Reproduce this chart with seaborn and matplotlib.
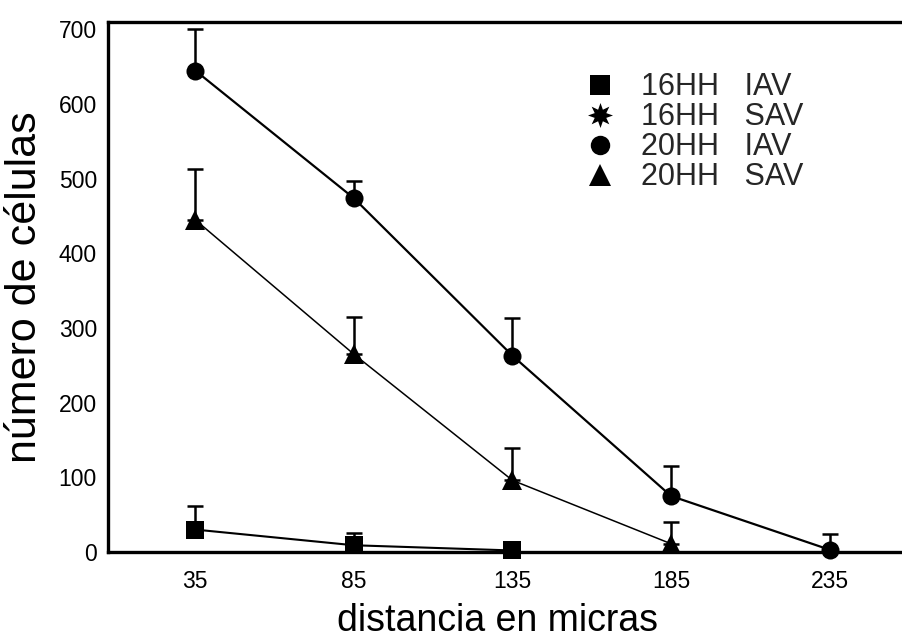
import numpy as np
import pandas as pd
import matplotlib
matplotlib.use("Agg")
import matplotlib.pyplot as plt
import seaborn as sns
from matplotlib.lines import Line2D

# ---- data ----
distancia = [35, 85, 135, 185, 235]
x_ticks = [35, 85, 135, 185, 235]
y_ticks = [0, 100, 200, 300, 400, 500, 600, 700]

iav20_x = [35, 85, 135, 185, 235]
iav20 = [645, 474, 263, 75, 3]
iav20_err = [55, 23, 50, 40, 21]

sav20_x = [35, 85, 135, 185]
sav20 = [445, 265, 96, 11]
sav20_err = [68, 50, 43, 29]

iav16_x = [35, 85, 135]
iav16 = [30, 9, 2]
iav16_err = [32, 16, 0]

legend_labels = ["16HH   IAV", "16HH   SAV", "20HH   IAV", "20HH   SAV"]

# ---- style ----
sns.set_theme(style="white")
plt.rcParams['font.family'] = ['Liberation Sans', 'DejaVu Sans']

fig = plt.figure(figsize=(9.02, 6.39), dpi=100)
ax = fig.add_axes([0.1197, 0.1362, 0.895, 0.8294])

series = [
    (iav16_x, iav16, iav16_err, 's', 13, 1.5),
    (sav20_x, sav20, sav20_err, '^', 15, 1.1),
    (iav20_x, iav20, iav20_err, 'o', 13, 1.6),
]
for xs, ys, errs, mk, ms, lw in series:
    df = pd.DataFrame({"x": xs, "y": ys})
    ax.errorbar(xs, ys, yerr=[np.zeros(len(errs)), errs], fmt='none',
                ecolor='black', elinewidth=1.8, capsize=5.5, capthick=1.8,
                zorder=2, clip_on=False)
    sns.lineplot(data=df, x="x", y="y", ax=ax, color='black', lw=lw,
                 marker=mk, markersize=ms, markeredgewidth=0,
                 markeredgecolor='black', markerfacecolor='black',
                 zorder=3, clip_on=False)

ax.set_xlim(7.5, 262)
ax.set_ylim(0, 710)
ax.set_xticks(x_ticks)
ax.set_yticks(y_ticks)
ax.tick_params(axis='both', length=0, labelsize=16.5, colors='black')
ax.tick_params(axis='y', pad=8)
ax.tick_params(axis='x', pad=13)

for side in ['left', 'bottom', 'top']:
    ax.spines[side].set_visible(True)
    ax.spines[side].set_linewidth(2.4)
    ax.spines[side].set_color('black')
ax.spines['right'].set_visible(False)

ax.set_xlabel("distancia en micras", fontsize=27, color='black')
ax.xaxis.set_label_coords(0.482, -0.097)
ax.set_ylabel("número de células", fontsize=31, labelpad=10, color='black')

handles = [
    Line2D([], [], ls='none', marker='s', markersize=14, color='black', markeredgewidth=0),
    Line2D([], [], ls='none', marker=(8, 1, 0), markersize=18, color='black', markeredgewidth=0),
    Line2D([], [], ls='none', marker='o', markersize=14, color='black', markeredgewidth=0),
    Line2D([], [], ls='none', marker='^', markersize=16, color='black', markeredgewidth=0),
]
leg = ax.legend(handles, legend_labels, loc='upper left', frameon=False,
                fontsize=22, handlelength=1.0, handletextpad=0.85,
                labelspacing=0.0, borderpad=0, borderaxespad=0,
                bbox_to_anchor=(0.59, 0.905))

fig.savefig("out.png", dpi=100, facecolor='white')
